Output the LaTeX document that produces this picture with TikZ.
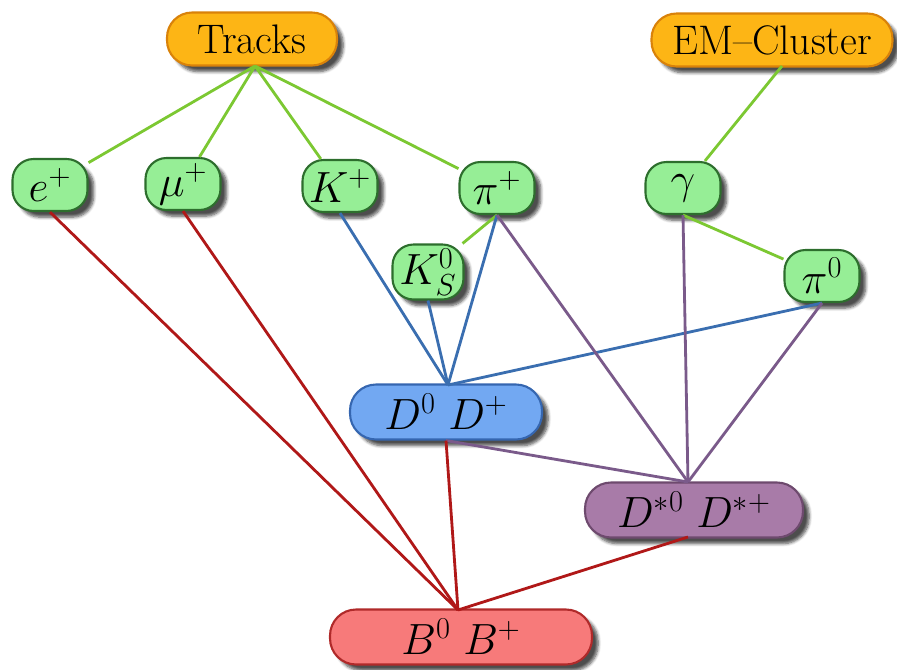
\documentclass[tikz,border=0pt]{standalone}
\usetikzlibrary{shadows,shadows.blur}
\definecolor{orfill}{HTML}{FDB515}
\definecolor{ordraw}{HTML}{D9820A}
\definecolor{grfill}{HTML}{96EE96}
\definecolor{grdraw}{HTML}{2D6E2D}
\definecolor{blfill}{HTML}{72A8F2}
\definecolor{bldraw}{HTML}{3566B0}
\definecolor{pufill}{HTML}{A87BA8}
\definecolor{pudraw}{HTML}{6E4A6E}
\definecolor{rdfill}{HTML}{F77A7A}
\definecolor{rddraw}{HTML}{B02A2A}
\definecolor{lgreen}{HTML}{7CC832}
\definecolor{lblue}{HTML}{3A6EB0}
\definecolor{lpurple}{HTML}{7A5A8A}
\definecolor{lred}{HTML}{B01818}
\tikzset{
  basebox/.style={rectangle, line width=1.2pt, inner sep=0pt,
    font=\fontsize{23.5}{28}\selectfont,
    blur shadow={shadow xshift=3.5pt, shadow yshift=-3.5pt, shadow blur steps=6, shadow opacity=70}},
  srcbox/.style={basebox, fill=orfill, draw=ordraw, rounded corners=0.5cm, minimum height=1.06cm},
  partbox/.style={basebox, fill=grfill, draw=grdraw, rounded corners=0.42cm, minimum width=1.5cm, minimum height=1.04cm},
  dbox/.style={basebox, fill=blfill, draw=bldraw, rounded corners=0.52cm, minimum height=1.1cm},
  dsbox/.style={basebox, fill=pufill, draw=pudraw, rounded corners=0.52cm, minimum height=1.1cm},
  bbox/.style={basebox, fill=rdfill, draw=rddraw, rounded corners=0.52cm, minimum height=1.1cm},
  gline/.style={draw=lgreen, line width=1.6pt},
  bline/.style={draw=lblue, line width=1.6pt},
  pline/.style={draw=lpurple, line width=1.6pt},
  rline/.style={draw=lred, line width=1.6pt},
}
\begin{document}
\begin{tikzpicture}[x=0.02cm, y=-0.02cm]
\useasboundingbox (0,0) rectangle (897,670);
\coordinate (dsin) at (688,482);
\coordinate (dsout) at (688,537);
\coordinate (bin) at (458,610);
\coordinate (din) at (448,385);
\coordinate (trout) at (255,66);
\coordinate (emout) at (782,66);

% nodes
\node[srcbox, minimum width=3.4cm] (tr) at (252,39) {Tracks};
\node[srcbox, minimum width=4.82cm] (em) at (772,40) {EM--Cluster};
\node[partbox] (e) at (50,185) {$e^+$};
\node[partbox] (mu) at (183,184) {$\mu^+$};
\node[partbox] (k) at (340,186) {$K^+$};
\node[partbox] (pi) at (497,188) {$\pi^+$};
\node[partbox] (g) at (683,188) {$\gamma$};
\node[partbox, minimum width=1.42cm, minimum height=1.1cm] (ks) at (428,272) {$K^0_S$};
\node[partbox] (pz) at (822,276) {$\pi^0$};
\node[dbox, minimum width=3.84cm] (d) at (446,412) {$D^0\ D^+$};
\node[dsbox, minimum width=4.36cm] (ds) at (694,510) {$D^{*0}\ D^{*+}$};
\node[bbox, minimum width=5.24cm] (b) at (461,637) {$B^0\ B^+$};

% green
\draw[gline] (trout) -- (e);
\draw[gline] (trout) -- (mu);
\draw[gline] (trout) -- (k);
\draw[gline] (trout) -- (pi);
\draw[gline] (emout) -- (g);
\draw[gline] (pi.south) -- (ks);
\draw[gline] (g.south) -- (pz);
% blue
\draw[bline] (k.south) -- (din);
\draw[bline] (ks.south) -- (din);
\draw[bline] (pi.south) -- (din);
\draw[bline] (pz.south) -- (din);
% purple
\draw[pline] (pi.south) -- (dsin);
\draw[pline] (g.south) -- (dsin);
\draw[pline] (pz.south) -- (dsin);
\draw[pline] (d.south) -- (dsin);
% red
\draw[rline] (e.south) -- (bin);
\draw[rline] (mu.south) -- (bin);
\draw[rline] (d.south) -- (bin);
\draw[rline] (dsout) -- (bin);
\end{tikzpicture}
\end{document}
